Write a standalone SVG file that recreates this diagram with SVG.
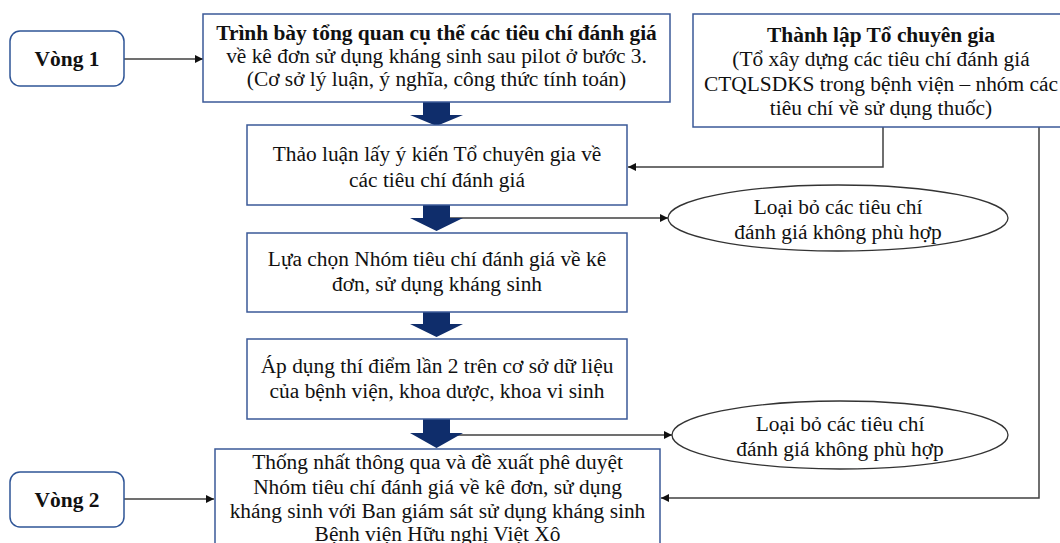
<svg xmlns="http://www.w3.org/2000/svg" width="1060" height="543" viewBox="0 0 1060 543">
<defs>
<marker id="ah" viewBox="0 0 10 10" refX="10" refY="5" markerWidth="8" markerHeight="8" markerUnits="userSpaceOnUse" orient="auto">
<path d="M0,0 L10,5 L0,10 z" fill="#111"/>
</marker>
<style>
.box{fill:#fff;stroke:#3b5998;stroke-width:1.5}
.rbox{fill:#fff;stroke:#2f5597;stroke-width:1.5}
.ell{fill:#fff;stroke:#333;stroke-width:1.3}
.t{font-family:"Liberation Serif","Times New Roman",serif;font-size:20px;fill:#111;text-anchor:middle}
.b{font-weight:bold}
.c{fill:none;stroke:#404040;stroke-width:1.5}
.big{fill:#0f2d6b}
</style>
</defs>
<rect width="1060" height="543" fill="#fff"/>
<g id="connectors">
<line class="c" x1="124" y1="59" x2="203" y2="59" marker-end="url(#ah)"/>
<polyline class="c" points="883,127 883,167 628,167" marker-end="url(#ah)"/>
<polyline class="c" points="1039,127 1039,498 661,498" marker-end="url(#ah)"/>
<line class="c" x1="450" y1="218" x2="668" y2="218" marker-end="url(#ah)"/>
<line class="c" x1="450" y1="435" x2="672" y2="435" marker-end="url(#ah)"/>
<line class="c" x1="124" y1="499" x2="214" y2="499" marker-end="url(#ah)"/>
<polygon class="big" points="423,102 450,102 450,115 463,115 436.5,126 410,115 423,115"/>
<polygon class="big" points="423,205 450,205 450,218 463,218 436.5,231 410,218 423,218"/>
<polygon class="big" points="423,312 450,312 450,324 463,324 436.5,337 410,324 423,324"/>
<polygon class="big" points="423,419 450,419 450,433 463,433 436.5,448 410,433 423,433"/>
</g>
<g id="vong1">
<rect class="rbox" x="10" y="31" width="114" height="55" rx="10"/>
<g transform="translate(67 0) scale(1.07 1)"><text class="t b" x="0" y="66">Vòng 1</text></g>
</g>
<g id="box1">
<rect class="box" x="203" y="14" width="467" height="88"/>
<g transform="translate(436.5 0) scale(1.07 1)">
<text class="t b" x="0" y="40">Trình bày tổng quan cụ thể các tiêu chí đánh giá</text>
<text class="t" x="0" y="63">về kê đơn sử dụng kháng sinh sau pilot ở bước 3.</text>
<text class="t" x="0" y="86">(Cơ sở lý luận, ý nghĩa, công thức tính toán)</text>
</g>
</g>
<g id="expert">
<rect class="box" x="693" y="14" width="376" height="113"/>
<g transform="translate(881 0) scale(1.07 1)">
<text class="t b" x="0" y="42">Thành lập Tổ chuyên gia</text>
<text class="t" x="0" y="66">(Tổ xây dựng các tiêu chí đánh giá</text>
<text class="t" x="0" y="91">CTQLSDKS trong bệnh viện – nhóm các</text>
<text class="t" x="0" y="115">tiêu chí về sử dụng thuốc)</text>
</g>
</g>
<g id="box2">
<rect class="box" x="247" y="125" width="380" height="80"/>
<g transform="translate(437 0) scale(1.07 1)">
<text class="t" x="0" y="161">Thảo luận lấy ý kiến Tổ chuyên gia về</text>
<text class="t" x="0" y="187">các tiêu chí đánh giá</text>
</g>
</g>
<g id="reject1">
<ellipse class="ell" cx="838" cy="218" rx="170" ry="33"/>
<g transform="translate(838 0) scale(1.07 1)">
<text class="t" x="0" y="214">Loại bỏ các tiêu chí</text>
<text class="t" x="0" y="239">đánh giá không phù hợp</text>
</g>
</g>
<g id="box3">
<rect class="box" x="247" y="233" width="380" height="79"/>
<g transform="translate(437 0) scale(1.07 1)">
<text class="t" x="0" y="266">Lựa chọn Nhóm tiêu chí đánh giá về kê</text>
<text class="t" x="0" y="291">đơn, sử dụng kháng sinh</text>
</g>
</g>
<g id="box4">
<rect class="box" x="247" y="339" width="380" height="80"/>
<g transform="translate(437 0) scale(1.07 1)">
<text class="t" x="0" y="373">Áp dụng thí điểm lần 2 trên cơ sở dữ liệu</text>
<text class="t" x="0" y="398">của bệnh viện, khoa dược, khoa vi sinh</text>
</g>
</g>
<g id="reject2">
<ellipse class="ell" cx="840" cy="435" rx="168" ry="34"/>
<g transform="translate(840 0) scale(1.07 1)">
<text class="t" x="0" y="431">Loại bỏ các tiêu chí</text>
<text class="t" x="0" y="456">đánh giá không phù hợp</text>
</g>
</g>
<g id="box5">
<rect class="box" x="215" y="449" width="445" height="110"/>
<g transform="translate(437.5 0) scale(1.07 1)">
<text class="t" x="0" y="469">Thống nhất thông qua và đề xuất phê duyệt</text>
<text class="t" x="0" y="494">Nhóm tiêu chí đánh giá về kê đơn, sử dụng</text>
<text class="t" x="0" y="518">kháng sinh với Ban giám sát sử dụng kháng sinh</text>
<text class="t" x="0" y="541">Bệnh viện Hữu nghị Việt Xô</text>
</g>
</g>
<g id="vong2">
<rect class="rbox" x="10" y="472" width="114" height="55" rx="10"/>
<g transform="translate(67 0) scale(1.07 1)"><text class="t b" x="0" y="507">Vòng 2</text></g>
</g>
</svg>
